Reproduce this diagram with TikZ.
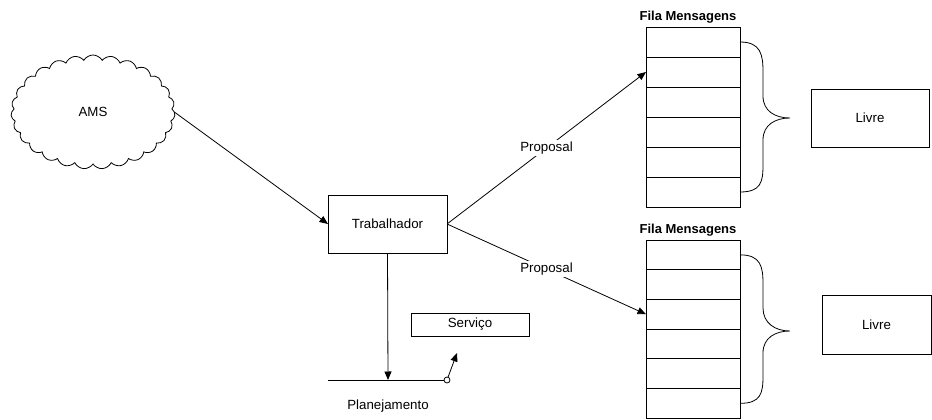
\documentclass[tikz,border=0pt]{standalone}
\usepackage{fontspec}
\setmainfont{Liberation Sans}
\usetikzlibrary{shapes.symbols,arrows.meta}
\begin{document}
\begin{tikzpicture}[x=1pt,y=-1pt,
  line width=0.8pt,
  every node/.style={font=\fontsize{13.3}{16}\selectfont, inner sep=0pt, outer sep=0pt},
  box/.style={draw, rectangle},
  cell/.style={draw, rectangle, minimum width=94pt},
  arr/.style={-{Triangle[length=8.5pt,width=7pt]}},
  lbl/.style={fill=white, inner sep=1.5pt},
  title/.style={font=\fontsize{13}{16}\selectfont\bfseries},
  brace/.style={line width=0.8pt}
]
\useasboundingbox (0,0) rectangle (932,420);

% source cloud
\node[draw, cloud, cloud puffs=27, cloud puff arc=120, aspect=1.45,
      minimum width=164pt, minimum height=114pt] (ams) at (93,112) {AMS};

% worker
\node[box, minimum width=119pt, minimum height=58pt] (trab) at (387.5,224) {Trabalhador};

% service box
\node[box, minimum width=118pt, minimum height=23pt] (serv) at (470,324.5) {Serviço};

% planning line
\coordinate (plA) at (328,380);
\coordinate (pl) at (388,380);
\node[draw, circle, minimum size=6pt, fill=white] (sw) at (447,380) {};
\coordinate (swtip) at (457,353);
\draw (plA) -- (sw.west);
\node (plan) at (388,406) {Planejamento};

% upper queue
\foreach \i in {1,...,6}
  \node[cell, minimum height=30pt] (qa\i) at (693,{27+15+30*(\i-1)}) {};
\node[title] (qatitle) at (688,17) {Fila Mensagens};

% lower queue
\foreach \i in {1,...,6}
  \node[cell, minimum height=29.7pt] (qb\i) at (693,{240+14.85+29.7*(\i-1)}) {};
\node[title] (qbtitle) at (688,230) {Fila Mensagens};

% free slots
\node[box, minimum width=118pt, minimum height=58pt] (livreA) at (870,118) {Livre};
\node[box, minimum width=109pt, minimum height=59pt] (livreB) at (876.5,324.5) {Livre};

% braces
\draw[brace] (qa1.east) .. controls +(21,0) and (763,55) .. (763,72)
  -- (763,96) .. controls (763,111) and (775,118) .. (790,118)
  .. controls (775,118) and (763,125) .. (763,140)
  -- (763,165) .. controls (763,182) and +(21,0) .. (qa6.east);
\draw[brace] (qb1.east) .. controls +(21,0) and (763,267) .. (763,284)
  -- (763,308) .. controls (763,323) and (775,331) .. (790,331)
  .. controls (775,331) and (763,338) .. (763,353)
  -- (763,376) .. controls (763,393) and +(21,0) .. (qb6.east);

% connectors
\draw[arr] (ams.east) -- (trab.west);
\draw[arr] (trab.east) -- node[lbl] {Proposal} (qa2.west);
\draw[arr] (trab.east) -- node[lbl] {Proposal} (qb3.west);
\draw[arr] (trab.south) -- (pl);
\draw[arr] (sw) -- (swtip);
\end{tikzpicture}
\end{document}
